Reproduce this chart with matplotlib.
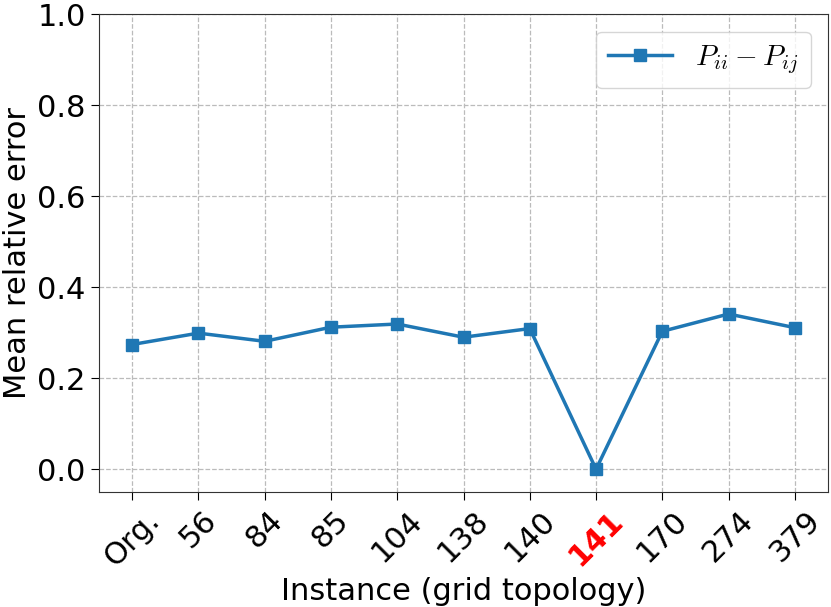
import matplotlib
matplotlib.use("Agg")
import matplotlib.pyplot as plt

categories = ["Org.", "56", "84", "85", "104", "138", "140", "141", "170", "274", "379"]
values = [0.274, 0.299, 0.281, 0.312, 0.319, 0.290, 0.309, 0.0, 0.303, 0.341, 0.311]
highlight = "141"

plt.rcParams['mathtext.fontset'] = 'cm'
fig = plt.figure(figsize=(8.31, 6.07), dpi=100)
ax = fig.add_axes([99/831, 1-492/607, (828-99)/831, (492-14)/607])
x = list(range(len(categories)))
ax.plot(x, values, color="#1f77b4", marker="s", markersize=8, linewidth=2.5,
        label=r"$P_{ii} - P_{ij}$")
ax.set_xlim(-0.5, 10.5)
ax.set_ylim(-0.05, 1.0)
ax.set_yticks([0.0, 0.2, 0.4, 0.6, 0.8, 1.0])
ax.set_xticks(x)
ax.set_xticklabels(categories, rotation=45, fontsize=22)
for lbl in ax.get_xticklabels():
    if lbl.get_text() == highlight:
        lbl.set_color("red")
        lbl.set_fontweight("bold")
ax.tick_params(axis='y', labelsize=22)
ax.tick_params(length=6)
ax.grid(True, linestyle="--", color="#bbbbbb", linewidth=0.9)
for s in ax.spines.values():
    s.set_color("#333333")
ax.set_xlabel("Instance (grid topology)", fontsize=22)
ax.set_ylabel("Mean relative error", fontsize=22)
leg = ax.legend(loc="upper right", fontsize=21, fancybox=True, framealpha=0.8,
                handlelength=2.2, borderaxespad=0.6)
fig.savefig("out.png", dpi=100)
